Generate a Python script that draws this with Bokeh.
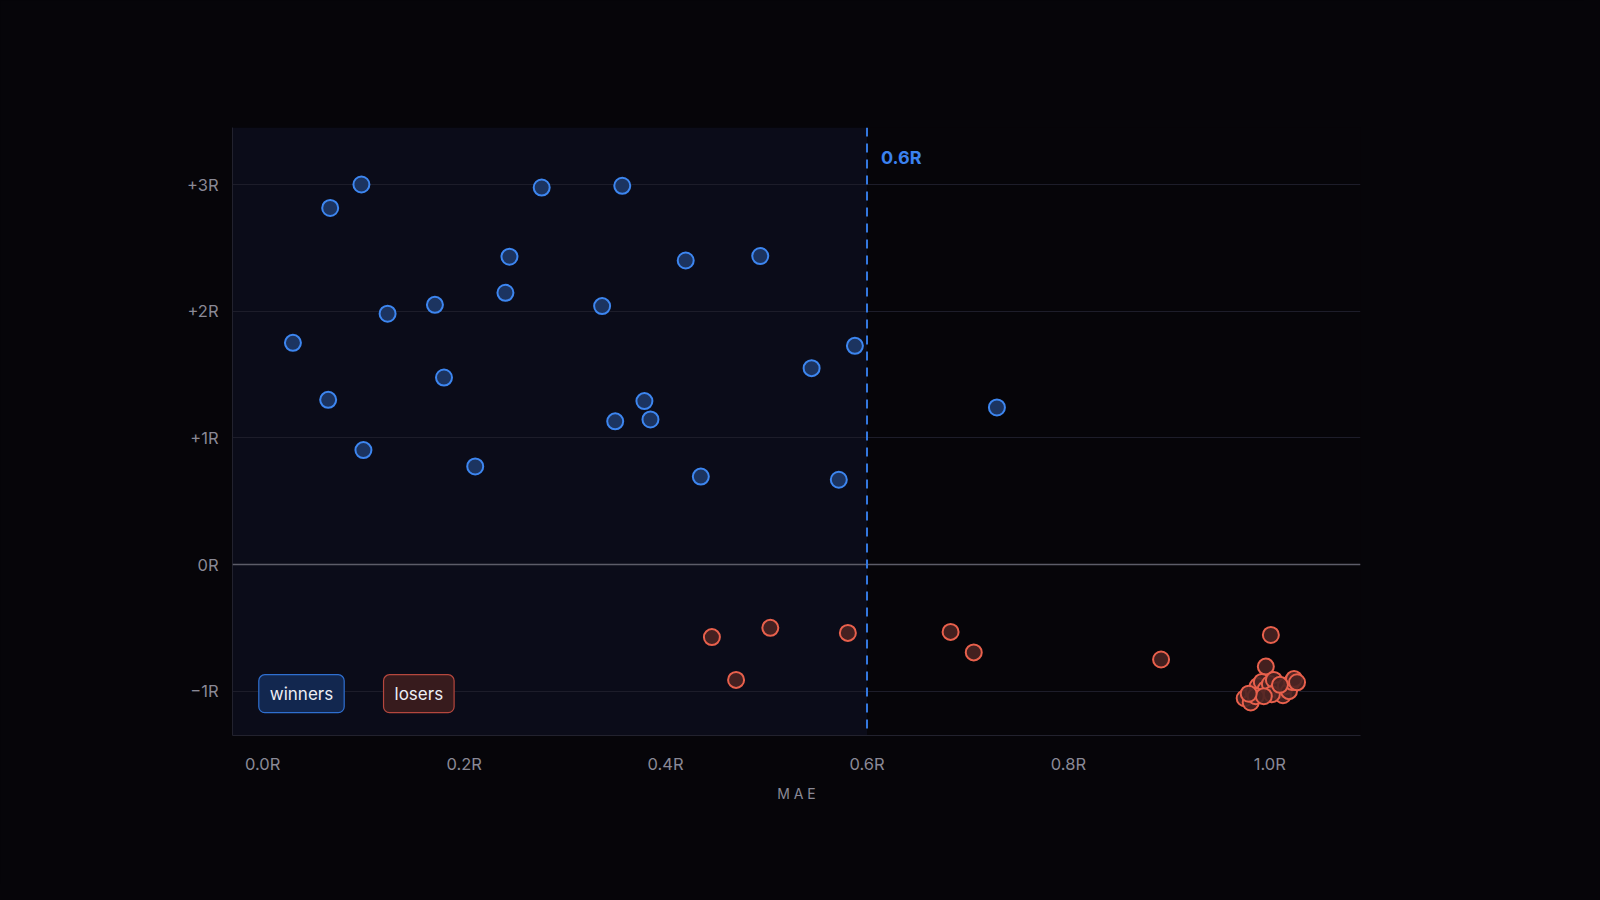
from bokeh.plotting import figure
from bokeh.models import (Range1d, FixedTicker, Span, Label, BoxAnnotation,
                          GlobalInlineStyleSheet)
from bokeh.embed import file_html
from bokeh.resources import INLINE

# Ganadores: MAE (en R) y resultado (en R)
win_mae = [0.098, 0.067, 0.277, 0.357, 0.245, 0.420, 0.494, 0.241, 0.171, 0.337,
           0.124, 0.030, 0.588, 0.545, 0.180, 0.065, 0.379, 0.350, 0.385, 0.729,
           0.100, 0.211, 0.435, 0.572]
win_r = [3.00, 2.815, 2.976, 2.99, 2.43, 2.40, 2.435, 2.145, 2.05, 2.04,
         1.98, 1.75, 1.726, 1.55, 1.476, 1.30, 1.29, 1.13, 1.145, 1.24,
         0.903, 0.774, 0.694, 0.669]

# Perdedores
loss_mae = [0.446, 0.504, 0.581, 0.470, 0.683, 0.706, 0.892, 1.001, 0.996,
            0.975, 0.981, 0.984, 0.988, 0.992, 0.996, 1.000, 1.004, 1.008,
            1.013, 1.016, 1.019, 1.022, 1.024, 0.986, 1.002, 0.994, 0.979,
            1.010, 1.027]
loss_r = [-0.573, -0.50, -0.54, -0.911, -0.532, -0.694, -0.75, -0.556, -0.806,
          -1.056, -1.089, -1.008, -0.96, -0.927, -0.984, -0.944, -0.911, -0.992,
          -1.032, -0.96, -1.00, -0.927, -0.903, -1.04, -1.024, -1.04, -1.02,
          -0.95, -0.93]

threshold = 0.6
x_ticks = [0.0, 0.2, 0.4, 0.6, 0.8, 1.0]
x_labels = ["0.0R", "0.2R", "0.4R", "0.6R", "0.8R", "1.0R"]
y_ticks = [-1, 0, 1, 2, 3]
y_labels = ["\u22121R", "0R", "+1R", "+2R", "+3R"]

BG = "#060509"
FONT = "Inter"

p = figure(width=1584, height=884, output_backend="svg", toolbar_location=None,
           x_range=Range1d(-0.03, 1.09), y_range=Range1d(-1.35, 3.45),
           min_border_left=232, min_border_right=224,
           min_border_top=127, min_border_bottom=149)
p.background_fill_color = BG
p.border_fill_color = BG
p.outline_line_color = None
p.stylesheets = [GlobalInlineStyleSheet(css="html, body { background: #060509; }")]

# Zona sombreada hasta el umbral (por debajo de la rejilla)
p.add_layout(BoxAnnotation(right=threshold, fill_color="#0b0c19", fill_alpha=1,
                           line_color=None, level="image"))

# Rejilla
p.xgrid.grid_line_color = None
p.ygrid.ticker = FixedTicker(ticks=y_ticks)
p.ygrid.grid_line_color = "#1d1d2a"
p.ygrid.grid_line_width = 1

# Ejes
p.xaxis.ticker = FixedTicker(ticks=x_ticks)
p.xaxis.major_label_overrides = dict(zip(x_ticks, x_labels))
p.yaxis.ticker = FixedTicker(ticks=y_ticks)
p.yaxis.major_label_overrides = dict(zip(y_ticks, y_labels))
for ax in (p.xaxis, p.yaxis):
    ax.axis_line_color = "#22222e"
    ax.axis_line_width = 1
    ax.major_tick_line_color = None
    ax.minor_tick_line_color = None
    ax.major_label_text_color = "#8a8996"
    ax.major_label_text_font = FONT
    ax.major_label_text_font_size = "16.5px"
p.xaxis.major_label_standoff = 12
p.yaxis.major_label_standoff = 8
p.xaxis.axis_label = "M A E"
p.xaxis.axis_label_text_font = FONT
p.xaxis.axis_label_text_font_style = "normal"
p.xaxis.axis_label_text_font_size = "14px"
p.xaxis.axis_label_text_color = "#8a8996"
p.xaxis.axis_label_standoff = 8

# Linea de cero y umbral
p.add_layout(Span(location=0, dimension="width", line_color="#5d5d69", line_width=1.5))
p.add_layout(Span(location=threshold, dimension="height", line_color="#3478e0",
                  line_width=2, line_dash="9 7"))
p.add_layout(Label(x=threshold, y=3.21, x_offset=14, text="0.6R",
                   text_color="#3b82f0", text_font=FONT, text_font_style="bold",
                   text_font_size="18px", text_baseline="middle"))

# Puntos
p.scatter(win_mae, win_r, size=16, fill_color="#1c3460", line_color="#3d86f0",
          line_width=2)
p.scatter(loss_mae, loss_r, size=16, fill_color="#4a2422", line_color="#e8604c",
          line_width=2, fill_alpha=0.9)

# Etiquetas tipo leyenda
p.add_layout(Label(x=0.0385, y=-1.02, text="winners", text_align="center",
                   text_baseline="middle", text_color="#eceef5", text_font=FONT,
                   text_font_size="17px", background_fill_color="#12274f",
                   border_line_color="#2f6fd0", border_line_width=1.2,
                   padding=(11, 9), border_radius=6))
p.add_layout(Label(x=0.155, y=-1.02, text="losers", text_align="center",
                   text_baseline="middle", text_color="#eceef5", text_font=FONT,
                   text_font_size="17px", background_fill_color="#371b1d",
                   border_line_color="#b5473e", border_line_width=1.2,
                   padding=(11, 9), border_radius=6))

open("out.html", "w").write(file_html(p, INLINE))
